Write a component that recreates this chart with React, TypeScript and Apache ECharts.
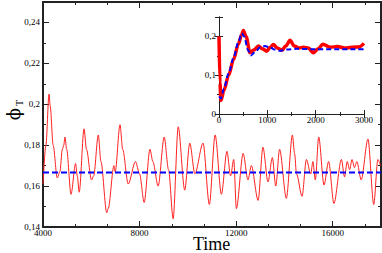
import React, { useEffect, useRef } from "react";
import * as echarts from "echarts";

const mainT = [4000, 4120, 4250, 4300, 4420, 4590, 4700, 4800, 4860, 4910, 4980, 5160, 5350, 5420, 5500, 5700, 5800, 6010, 6100, 6290, 6400, 6640, 6700, 6940, 6990, 7190, 7300, 7530, 7830, 8000, 8190, 8430, 8550, 8770, 9020, 9200, 9390, 9600, 9870, 10080, 10290, 10630, 10890, 11130, 11390, 11620, 11770, 11900, 12010, 12290, 12490, 12630, 12910, 13110, 13320, 13500, 13640, 13800, 14080, 14330, 14420, 14500, 14730, 14910, 15090, 15180, 15280, 15420, 15640, 15830, 16050, 16360, 16490, 16600, 16700, 16800, 16900, 17000, 17180, 17460, 17700, 17870, 17980];
const mainV = [0.161, 0.18, 0.205, 0.199, 0.18, 0.164, 0.167, 0.178, 0.18, 0.184, 0.178, 0.156, 0.171, 0.165, 0.157, 0.188, 0.178, 0.163, 0.165, 0.185, 0.172, 0.147, 0.149, 0.17, 0.167, 0.19, 0.178, 0.161, 0.172, 0.166, 0.152, 0.178, 0.172, 0.16, 0.184, 0.168, 0.144, 0.189, 0.158, 0.181, 0.166, 0.181, 0.151, 0.185, 0.156, 0.177, 0.165, 0.173, 0.149, 0.176, 0.163, 0.17, 0.153, 0.179, 0.162, 0.174, 0.16, 0.178, 0.154, 0.185, 0.176, 0.166, 0.155, 0.173, 0.166, 0.172, 0.163, 0.184, 0.1605, 0.172, 0.1515, 0.173, 0.1645, 0.172, 0.168, 0.173, 0.169, 0.172, 0.163, 0.183, 0.151, 0.173, 0.17];
const mainMeanT = [4000, 18000];
const mainMeanV = [0.1667, 0.1667];

const insetRedT = [0, 20, 40, 100, 200, 300, 400, 470, 503, 560, 640, 720, 815, 900, 985, 1060, 1125, 1210, 1300, 1380, 1470, 1560, 1650, 1750, 1850, 1950, 2050, 2150, 2300, 2450, 2600, 2750, 2900, 3000];
const insetRedV = [0.2, 0.08, 0.035, 0.06, 0.1, 0.14, 0.18, 0.205, 0.215, 0.2, 0.158, 0.165, 0.175, 0.168, 0.162, 0.172, 0.179, 0.17, 0.164, 0.175, 0.19, 0.175, 0.17, 0.172, 0.17, 0.158, 0.168, 0.18, 0.172, 0.174, 0.17, 0.172, 0.173, 0.182];
const insetBlueT = [0, 40, 100, 200, 300, 400, 470, 520, 600, 660, 750, 850, 950, 1050, 1150, 1250, 1400, 1600, 2000, 3000];
const insetBlueV = [0.045, 0.04, 0.065, 0.105, 0.145, 0.185, 0.208, 0.2, 0.165, 0.151, 0.16, 0.172, 0.175, 0.172, 0.166, 0.163, 0.166, 0.168, 0.167, 0.167];

const xLabel = "Time";
const yLabelMain = "ϕ";
const yLabelSub = "T";

const fmt = (v: number) => String(+v.toFixed(2)).replace(".", ",");
const FONT = "Liberation Serif";

function zip(a: number[], b: number[]) {
  return a.map((t, i) => [t, b[i]]);
}

export default function App() {
  const ref = useRef<HTMLDivElement>(null);
  useEffect(() => {
    if (!ref.current) return;
    const chart = echarts.init(ref.current, null, { renderer: "svg" });
    const axisLine = (w: number) => ({ show: true, lineStyle: { color: "#222", width: w } });
    const tickIn = (len: number, w: number) => ({ show: true, inside: true, length: len, lineStyle: { color: "#222", width: w } });
    const minorIn = (n: number, len: number) => ({ show: true, splitNumber: n, length: len, lineStyle: { color: "#222", width: 1 } });
    const lbl = (m: number) => ({ fontFamily: FONT, fontSize: 9, color: "#000", margin: m });
    chart.setOption({
      animation: false,
      backgroundColor: "#fff",
      grid: [
        { left: 43, right: 1, top: 2, bottom: 26, show: false },
        { left: 219, top: 17, width: 145, height: 97, show: true, backgroundColor: "#fff", borderWidth: 0 },
      ],
      xAxis: [
        { type: "value", gridIndex: 0, min: 4000, max: 18000, interval: 4000, position: "bottom",
          axisLine: axisLine(2), axisTick: tickIn(6, 1), minorTick: minorIn(3, 3), splitLine: { show: false },
          axisLabel: { ...lbl(1), formatter: (v: number) => String(v), showMaxLabel: false } },
        { type: "value", gridIndex: 0, min: 4000, max: 18000, interval: 4000, position: "top",
          axisLine: axisLine(2), axisTick: tickIn(6, 1), minorTick: minorIn(3, 3), splitLine: { show: false },
          axisLabel: { show: false } },
        { type: "value", gridIndex: 1, min: 0, max: 3000, interval: 1000, position: "bottom",
          axisLine: axisLine(1), axisTick: tickIn(4, 1), minorTick: minorIn(2, 2), splitLine: { show: false },
          axisLabel: { ...lbl(1), formatter: (v: number) => String(v) } },
        { type: "value", gridIndex: 1, min: 0, max: 3000, interval: 1000, position: "top",
          axisLine: axisLine(1), axisTick: tickIn(4, 1), minorTick: minorIn(2, 2), splitLine: { show: false },
          axisLabel: { show: false } },
      ],
      yAxis: [
        { type: "value", gridIndex: 0, min: 0.14, max: 0.25, interval: 0.02, position: "left",
          axisLine: axisLine(2), axisTick: tickIn(6, 1), minorTick: minorIn(2, 3), splitLine: { show: false },
          axisLabel: { ...lbl(3), formatter: fmt, showMaxLabel: false } },
        { type: "value", gridIndex: 0, min: 0.14, max: 0.25, interval: 0.02, position: "right",
          axisLine: axisLine(2), axisTick: tickIn(6, 1), minorTick: minorIn(2, 3), splitLine: { show: false },
          axisLabel: { show: false } },
        { type: "value", gridIndex: 1, min: 0, max: 0.25, interval: 0.1, position: "left",
          axisLine: axisLine(1), axisTick: tickIn(4, 1), minorTick: minorIn(2, 2), splitLine: { show: false },
          axisLabel: { ...lbl(3), formatter: fmt, showMaxLabel: false } },
        { type: "value", gridIndex: 1, min: 0, max: 0.25, interval: 0.1, position: "right",
          axisLine: axisLine(1), axisTick: tickIn(4, 1), minorTick: minorIn(2, 2), splitLine: { show: false },
          axisLabel: { show: false } },
      ],
      series: [
        { type: "line", xAxisIndex: 0, yAxisIndex: 0, data: zip(mainT, mainV), showSymbol: false, symbol: "none",
          smooth: 0.3, smoothMonotone: "x", lineStyle: { color: "#ff2020", width: 1 }, z: 2 },
        { type: "line", xAxisIndex: 0, yAxisIndex: 0, data: zip(mainMeanT, mainMeanV), showSymbol: false, symbol: "none",
          lineStyle: { color: "#0000ff", width: 2, type: [6, 3] }, z: 3 },
        { type: "line", xAxisIndex: 2, yAxisIndex: 2, data: zip(insetRedT, insetRedV), showSymbol: false, symbol: "none",
          smooth: 0.3, smoothMonotone: "x", lineStyle: { color: "#ff0000", width: 3.5 }, z: 5 },
        { type: "line", xAxisIndex: 2, yAxisIndex: 2, data: zip(insetBlueT, insetBlueV), showSymbol: false, symbol: "none",
          smooth: 0.3, smoothMonotone: "x", lineStyle: { color: "#0000ff", width: 2, type: [5, 3] }, z: 6 },
      ],
      graphic: [
        { type: "text", left: 193, top: 235, style: { text: xLabel, font: `18px "${FONT}"`, fill: "#000" } },
        { type: "text", x: 13, y: 114, rotation: Math.PI / 2,
          style: { text: yLabelMain, font: `18px "DejaVu Serif"`, fill: "#000", textAlign: "center", textVerticalAlign: "middle" } },
        { type: "text", x: 19, y: 103, rotation: Math.PI / 2,
          style: { text: yLabelSub, font: `10px "${FONT}"`, fill: "#000", textAlign: "center", textVerticalAlign: "middle" } },
      ],
    });
    return () => chart.dispose();
  }, []);
  return <div ref={ref} style={{ position: "fixed", left: 0, top: 0, width: 382, height: 253 }} />;
}
